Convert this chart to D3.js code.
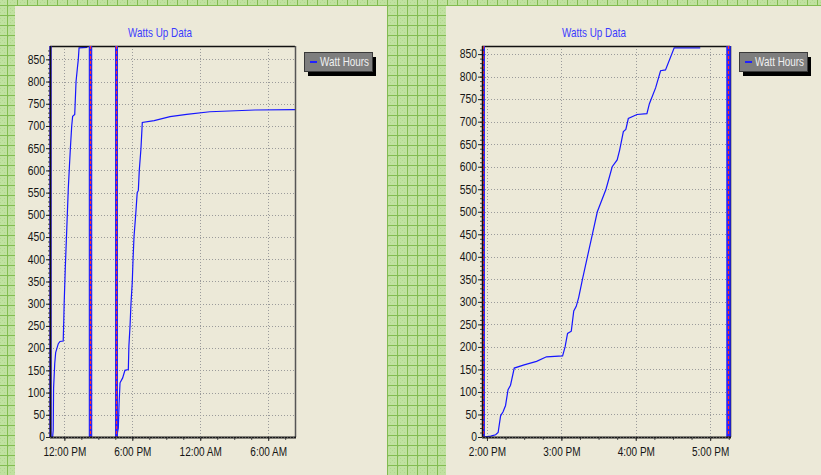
<!DOCTYPE html>
<html><head><meta charset="utf-8">
<script src="https://cdn.jsdelivr.net/npm/d3@7"></script>
<style>
body{margin:0;overflow:hidden;background:#bfe09e}
svg{display:block}
text{font-family:"Liberation Sans",Arial,sans-serif}
</style></head>
<body><svg id="c" width="821" height="475"></svg>
<script>
// ---------------- DATA ----------------
const chartTitle = "Watts Up Data";
const seriesName = "Watt Hours";
const yTickValues = [0,50,100,150,200,250,300,350,400,450,500,550,600,650,700,750,800,850];

// Left chart: x ticks
const xTicks1 = ["2009-06-01 12:00","2009-06-01 18:00","2009-06-02 00:00","2009-06-02 06:00"];
const xTickLabels1 = ["12:00 PM","6:00 PM","12:00 AM","6:00 AM"];
// Left chart: first run
const runATimes = ["2009-06-01 10:48","2009-06-01 10:58","2009-06-01 11:01","2009-06-01 11:03","2009-06-01 11:09","2009-06-01 11:14","2009-06-01 11:28","2009-06-01 11:37","2009-06-01 11:54","2009-06-01 11:57","2009-06-01 11:59","2009-06-01 12:05","2009-06-01 12:13","2009-06-01 12:21","2009-06-01 12:27","2009-06-01 12:32","2009-06-01 12:39","2009-06-01 12:44","2009-06-01 12:55","2009-06-01 13:02","2009-06-01 13:09","2009-06-01 13:14","2009-06-01 13:18","2009-06-01 14:02"];
const runAValues = [0,0,15,110,165,190,210,215,216,262,300,380,470,560,610,650,700,722,726,800,830,850,876,877];
// Left chart: second run
const runBTimes = ["2009-06-01 16:37","2009-06-01 16:46","2009-06-01 16:50","2009-06-01 16:55","2009-06-01 17:09","2009-06-01 17:21","2009-06-01 17:39","2009-06-01 17:42","2009-06-01 17:48","2009-06-01 17:53","2009-06-01 18:00","2009-06-01 18:04","2009-06-01 18:09","2009-06-01 18:18","2009-06-01 18:26","2009-06-01 18:32","2009-06-01 18:37","2009-06-01 18:46","2009-06-01 18:53","2009-06-01 19:56","2009-06-01 21:20","2009-06-01 22:48","2009-06-02 00:51","2009-06-02 04:50","2009-06-02 08:22"];
const runBValues = [0,20,75,122,133,150,152,205,250,300,350,400,450,500,550,555,600,650,708,712,721,726,732,736,737];
// Left chart: marker lines
const markers1 = ["2009-06-01 10:45","2009-06-01 14:16","2009-06-01 16:34"];

// Right chart: x ticks
const xTicks2 = ["2009-06-01 14:00","2009-06-01 15:00","2009-06-01 16:00","2009-06-01 17:00"];
const xTickLabels2 = ["2:00 PM","3:00 PM","4:00 PM","5:00 PM"];
// Right chart: run
const runCTimes = ["2009-06-01 13:57","2009-06-01 14:03","2009-06-01 14:07","2009-06-01 14:09","2009-06-01 14:11","2009-06-01 14:13","2009-06-01 14:15","2009-06-01 14:17","2009-06-01 14:19","2009-06-01 14:22","2009-06-01 14:30","2009-06-01 14:40","2009-06-01 14:48","2009-06-01 15:01","2009-06-01 15:03","2009-06-01 15:05","2009-06-01 15:08","2009-06-01 15:10","2009-06-01 15:12","2009-06-01 15:14","2009-06-01 15:17","2009-06-01 15:21","2009-06-01 15:25","2009-06-01 15:29","2009-06-01 15:36","2009-06-01 15:41","2009-06-01 15:45","2009-06-01 15:47","2009-06-01 15:50","2009-06-01 15:52","2009-06-01 15:54","2009-06-01 16:01","2009-06-01 16:09","2009-06-01 16:11","2009-06-01 16:16","2009-06-01 16:20","2009-06-01 16:24","2009-06-01 16:31","2009-06-01 16:52"];
const runCValues = [0,2,5,10,47,56,70,105,115,153,160,168,178,180,200,230,235,280,290,310,350,400,450,500,550,600,615,637,678,683,707,716,718,740,775,813,815,864,864];
// Right chart: marker lines
const markers2 = ["2009-06-01 13:57","2009-06-01 17:14"];

// ---------------- DRAW ----------------
const parse = d3.timeParse("%Y-%m-%d %H:%M");
const svg = d3.select("#c");
const W = 821, H = 475;

const defs = svg.append("defs");
const pat = defs.append("pattern").attr("id","bg").attr("patternUnits","userSpaceOnUse")
  .attr("width",10).attr("height",10).attr("x",7).attr("y",5);
pat.append("rect").attr("width",10).attr("height",10).attr("fill","#c0e1a0");
pat.append("path").attr("d","M1 1h1v1h-1zM3 3h1v1h-1zM5 5h1v1h-1zM7 7h1v1h-1zM3 7h1v1h-1zM7 3h1v1h-1z").attr("fill","#b2d78f");
pat.append("path").attr("d","M0 0.5H10M0.5 0V10").attr("stroke","#82bc50").attr("stroke-width",1);
svg.append("rect").attr("width",W).attr("height",H).attr("fill","url(#bg)");

function compress(sel, f){
  sel.each(function(){
    const w = this.getComputedTextLength();
    this.setAttribute("textLength", (w*f).toFixed(2));
    this.setAttribute("lengthAdjust","spacingAndGlyphs");
  });
}

function drawChart(cfg){
  const g = svg.append("g");
  g.append("rect").attr("x",cfg.px).attr("y",6).attr("width",cfg.pw).attr("height",H-6)
    .attr("fill","#ece9d8");

  const x = d3.scaleTime().domain([parse(cfg.xDomain[0]), parse(cfg.xDomain[1])]).range([cfg.left,cfg.right]);
  const y = d3.scaleLinear().domain([0,cfg.yMax]).range([cfg.bottom,cfg.top]);

  // horizontal grid
  g.append("g").selectAll("line").data(yTickValues.filter(v=>v>0)).join("line")
    .attr("x1",cfg.left).attr("x2",cfg.right)
    .attr("y1",d=>Math.round(y(d))+0.5).attr("y2",d=>Math.round(y(d))+0.5)
    .attr("stroke","#9b9b9b").attr("stroke-dasharray","1,2");
  // vertical grid
  const xt = cfg.xTicks.map(parse);
  g.append("g").selectAll("line").data(xt).join("line")
    .attr("x1",d=>Math.round(x(d))+0.5).attr("x2",d=>Math.round(x(d))+0.5)
    .attr("y1",cfg.top).attr("y2",cfg.bottom)
    .attr("stroke","#9b9b9b").attr("stroke-dasharray","1,2");

  // series
  const line = d3.line().x(d=>x(d.t)).y(d=>y(d.v));
  cfg.runs.forEach(r=>{
    const data = r.times.map((t,i)=>({t:parse(t), v:r.values[i]}));
    g.append("path").datum(data).attr("d",line).attr("fill","none")
      .attr("stroke","#1616ff").attr("stroke-width",1.2);
  });

  // frame
  g.append("line").attr("x1",cfg.left).attr("x2",cfg.right).attr("y1",cfg.top+0.5).attr("y2",cfg.top+0.5)
    .attr("stroke","#111").attr("stroke-width",1.5);
  g.append("line").attr("x1",cfg.right+0.5).attr("x2",cfg.right+0.5).attr("y1",cfg.top).attr("y2",cfg.bottom)
    .attr("stroke",cfg.rightStroke).attr("stroke-width",1.5);

  // markers
  const mk = g.append("g");
  cfg.markers.forEach((m,i)=>{
    const mx = Math.round(x(parse(m)))+0.5;
    const w = cfg.markerWidths[i];
    mk.append("line").attr("x1",mx).attr("x2",mx).attr("y1",cfg.top).attr("y2",cfg.bottom)
      .attr("stroke","#2424ff").attr("stroke-width",w);
    mk.append("line").attr("x1",mx).attr("x2",mx).attr("y1",cfg.top).attr("y2",cfg.bottom)
      .attr("stroke","#ff3030").attr("stroke-width",1.2).attr("stroke-dasharray","3,2");
  });

  // y axis
  const yMinor = d3.range(0, cfg.yMax, 10);
  const yAxMinor = g.append("g").attr("transform",`translate(${cfg.left},0)`)
    .call(d3.axisLeft(y).tickValues(yMinor).tickSize(2).tickFormat(""));
  yAxMinor.select(".domain").remove();
  yAxMinor.selectAll("line").attr("stroke","#444");
  const yAx = g.append("g").attr("transform",`translate(${cfg.left},0)`)
    .call(d3.axisLeft(y).tickValues(yTickValues).tickSize(4).tickPadding(1));
  yAx.select(".domain").remove();
  yAx.selectAll("line").attr("stroke","#222");
  yAx.selectAll("text").attr("font-size","12px").attr("fill","#151515")
    .attr("font-family","'Liberation Sans',Arial,sans-serif");
  compress(yAx.selectAll("text"), 0.86);
  g.append("line").attr("x1",cfg.left+0.5).attr("x2",cfg.left+0.5).attr("y1",cfg.top).attr("y2",cfg.bottom+1)
    .attr("stroke","#111").attr("stroke-width",1.5);

  // x axis
  const xAxMinor = g.append("g").attr("transform",`translate(0,${cfg.bottom})`)
    .call(d3.axisBottom(x).tickValues(cfg.xMinor).tickSize(3).tickFormat(""));
  xAxMinor.select(".domain").remove();
  xAxMinor.selectAll("line").attr("stroke","#555");
  const xAx = g.append("g").attr("transform",`translate(0,${cfg.bottom})`)
    .call(d3.axisBottom(x).tickValues(xt).tickSize(4).tickFormat((d,i)=>cfg.xTickLabels[i]));
  xAx.select(".domain").remove();
  xAx.selectAll("line").attr("stroke","#333");
  xAx.selectAll("text").attr("y",10.5).attr("font-size","12.5px").attr("fill","#151515")
    .attr("font-family","'Liberation Sans',Arial,sans-serif");
  compress(xAx.selectAll("text"), 0.8);
  g.append("line").attr("x1",cfg.left).attr("x2",cfg.right+1).attr("y1",cfg.bottom+0.5).attr("y2",cfg.bottom+0.5)
    .attr("stroke","#1a1a1a").attr("stroke-width",2.2);
  g.append("line").attr("x1",cfg.left).attr("x2",cfg.right+1).attr("y1",cfg.bottom+0.5).attr("y2",cfg.bottom+0.5)
    .attr("stroke","#8a8a8a").attr("stroke-width",0.6).attr("stroke-dasharray","1,2");

  // title
  const tt = g.append("text").attr("x",cfg.titleX).attr("y",36.5).attr("text-anchor","middle")
    .attr("font-size","13px").attr("fill","#3b3bff").text(chartTitle);
  compress(tt, 0.76);

  // legend
  const lg = g.append("g");
  lg.append("rect").attr("x",cfg.legX+4).attr("y",57).attr("width",68).attr("height",19).attr("fill","#000");
  lg.append("rect").attr("x",cfg.legX+0.5).attr("y",52.5).attr("width",68).attr("height",19)
    .attr("fill","#7e7e7e").attr("stroke","#3a3a3a").attr("stroke-width",1);
  lg.append("line").attr("x1",cfg.legX+6).attr("x2",cfg.legX+13).attr("y1",62).attr("y2",62)
    .attr("stroke","#2020ff").attr("stroke-width",2);
  const lt = lg.append("text").attr("x",cfg.legX+16).attr("y",66).attr("font-size","13px")
    .attr("fill","#f0f0f0").text(seriesName);
  compress(lt, 0.76);
}

function minorTicks(startStr, stepMin, count){
  const s = parse(startStr);
  return d3.range(count).map(k=>d3.timeMinute.offset(s, k*stepMin));
}

drawChart({
  px:15, pw:372, left:50, right:295, top:46, bottom:437, yMax:880,
  xDomain:["2009-06-01 10:44","2009-06-02 08:22"],
  xTicks:xTicks1, xTickLabels:xTickLabels1,
  xMinor:minorTicks("2009-06-01 12:00", 90, 14),
  runs:[{times:runATimes, values:runAValues},{times:runBTimes, values:runBValues}],
  markers:markers1, markerWidths:[2.5,3.5,3],
  rightStroke:"#555", titleX:160, legX:304
});
drawChart({
  px:446, pw:375, left:482, right:730, top:46, bottom:437, yMax:868,
  xDomain:["2009-06-01 13:56","2009-06-01 17:16"],
  xTicks:xTicks2, xTickLabels:xTickLabels2,
  xMinor:minorTicks("2009-06-01 14:00", 15, 14),
  runs:[{times:runCTimes, values:runCValues}],
  markers:markers2, markerWidths:[3,4.5],
  rightStroke:"#111", titleX:594, legX:739
});
</script>
</body></html>
